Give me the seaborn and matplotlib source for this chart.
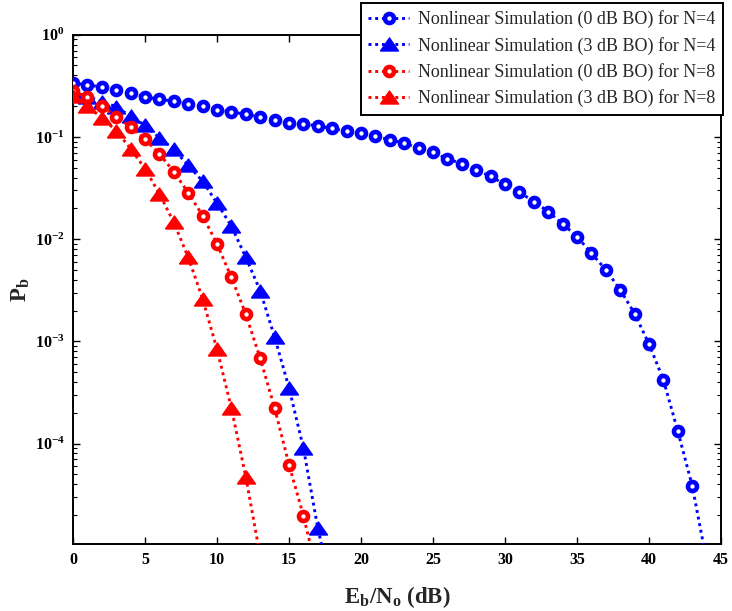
import numpy as np
import pandas as pd
import matplotlib
matplotlib.use("Agg")
import matplotlib.pyplot as plt
import seaborn as sns
from matplotlib.ticker import LogLocator

# ---------------- data ----------------
ebno_n4_0db = list(range(0, 45))
pb_n4_0db = [0.338, 0.321, 0.309, 0.287, 0.270, 0.246, 0.234, 0.223, 0.211, 0.201,
             0.185, 0.176, 0.166, 0.157, 0.148, 0.138, 0.134, 0.128, 0.121, 0.114,
             0.108, 0.101, 0.094, 0.087, 0.0775, 0.0705, 0.061, 0.0547, 0.0478, 0.041,
             0.0343, 0.0288, 0.0233, 0.0186, 0.0141, 0.0106, 0.00726, 0.00502, 0.00319, 0.00187,
             0.00094, 0.00042, 0.000132, 3.87e-5, 7.1e-6]

ebno_n4_3db = list(range(0, 19))
pb_n4_3db = [0.274, 0.248, 0.222, 0.197, 0.159, 0.130, 0.098, 0.0755, 0.0526, 0.0369,
             0.0225, 0.0134, 0.00663, 0.00312, 0.0011, 0.000351, 9.06e-5, 1.49e-5, 3.6e-6]

ebno_n8_0db = list(range(0, 18))
pb_n8_0db = [0.279, 0.246, 0.199, 0.158, 0.125, 0.0944, 0.0683, 0.0457, 0.0284, 0.0170,
             0.00897, 0.00422, 0.00184, 0.000683, 0.000223, 6.22e-5, 1.97e-5, 5.1e-6]

ebno_n8_3db = list(range(0, 14))
pb_n8_3db = [0.251, 0.199, 0.154, 0.115, 0.0768, 0.0489, 0.0278, 0.0146, 0.00663, 0.00261,
             0.000836, 0.000222, 4.72e-5, 7.9e-6]

labels = ["Nonlinear Simulation (0 dB BO) for N=4",
          "Nonlinear Simulation (3 dB BO) for N=4",
          "Nonlinear Simulation (0 dB BO) for N=8",
          "Nonlinear Simulation (3 dB BO) for N=8"]
x_ticks = [0, 5, 10, 15, 20, 25, 30, 35, 40, 45]

# ---------------- style ----------------
sns.set_theme(style="ticks")
plt.rcParams["font.family"] = ["Liberation Serif", "DejaVu Serif"]
plt.rcParams["axes.linewidth"] = 1.4

fig = plt.figure(figsize=(7.32, 6.11), dpi=100)
ax = fig.add_axes([73 / 732, 1 - 544 / 611, (721 - 73) / 732, (544 - 34.7) / 611])
ax.set_yscale("log")

tri = [(-1.0, -0.72), (1.0, -0.72), (0.0, 0.72), (-1.0, -0.72)]
dash = (0, (1.0, 1.3))

series = [
    (ebno_n4_0db, pb_n4_0db, "#0000ff", "o", labels[0]),
    (ebno_n4_3db, pb_n4_3db, "#0000ff", "^", labels[1]),
    (ebno_n8_0db, pb_n8_0db, "#ff0000", "o", labels[2]),
    (ebno_n8_3db, pb_n8_3db, "#ff0000", "^", labels[3]),
]
for i, (xs, ys, c, m, lab) in enumerate(series):
    df = pd.DataFrame({"EbNo": xs, "Pb": ys})
    if m == "o":
        mk = dict(marker="o", markersize=6.5, markeredgewidth=3.3,
                  markeredgecolor=c, markerfacecolor="white")
    else:
        mk = dict(marker=tri, markersize=13, markeredgewidth=1.0,
                  markeredgecolor=c, markerfacecolor=c)
    sns.lineplot(data=df, x="EbNo", y="Pb", ax=ax, color=c, linestyle=dash,
                 linewidth=2.1, label=lab, zorder=3 + i, **mk)

ax.set_xlim(0, 45)
ax.set_ylim(1.04e-5, 1)
ax.set_xticks(x_ticks)
ax.yaxis.set_major_locator(LogLocator(base=10, numticks=10))
ax.yaxis.set_minor_locator(LogLocator(base=10, subs=np.arange(2, 10), numticks=20))

ax.tick_params(which="both", direction="in", top=True, right=True, colors="black")
ax.tick_params(which="major", length=5, width=1.0, labelsize=11.5, pad=6)
ax.tick_params(which="minor", length=3, width=0.8)
for lbl in ax.get_xticklabels() + ax.get_yticklabels():
    lbl.set_fontweight("bold")
for sp in ax.spines.values():
    sp.set_visible(True)
    sp.set_color("black")
    sp.set_linewidth(1.4)

ax.set_xlabel(r"E$_\mathregular{b}$/N$_\mathregular{o}$ (dB)", fontsize=16.5,
              fontweight="bold")
ax.set_ylabel(r"P$_\mathregular{b}$", fontsize=16.5, fontweight="bold")
ax.xaxis.set_label_coords(0.5, -0.078)
ax.yaxis.set_label_coords(-0.064, 0.5)

handles, labs = ax.get_legend_handles_labels()
leg = ax.legend(handles, labs, loc="upper right", bbox_to_anchor=(723 / 732, 1 - 3 / 611),
                bbox_transform=fig.transFigure, borderaxespad=0, fancybox=False,
                frameon=True, framealpha=1, edgecolor="black", fontsize=13,
                handlelength=2.3, handletextpad=0.5, borderpad=0.4, labelspacing=0.47)
leg.get_frame().set_linewidth(1.4)
leg.set_zorder(10)

fig.savefig("out.png", dpi=100, facecolor="white")
